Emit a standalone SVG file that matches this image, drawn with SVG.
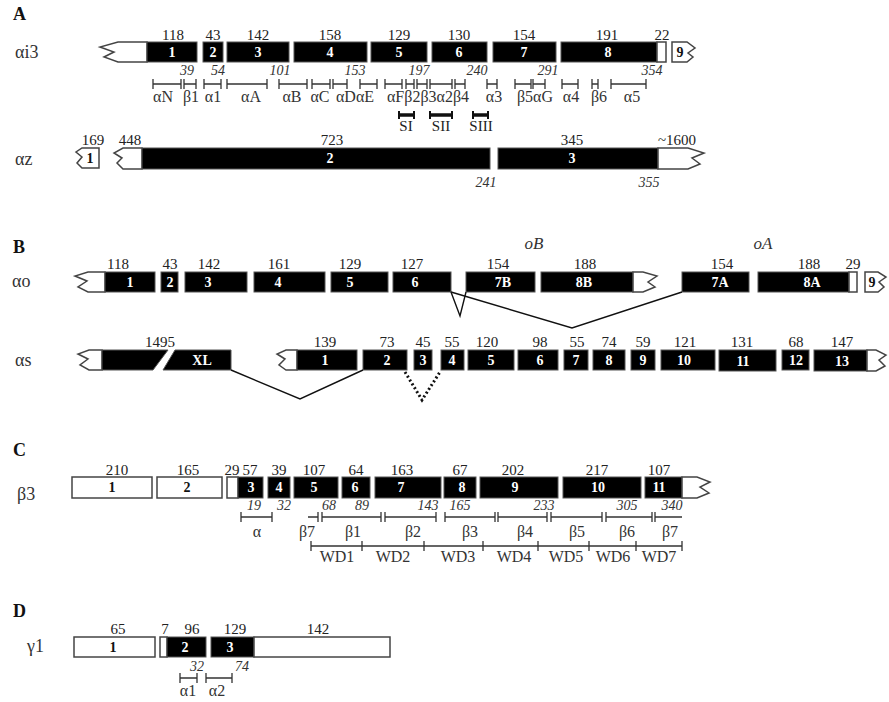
<svg xmlns="http://www.w3.org/2000/svg" width="889" height="702" viewBox="0 0 889 702">
<style>
.ex{fill:#000;stroke:#555;stroke-width:1}
.wb{fill:#fff;stroke:#444;stroke-width:1.5}
.n{font-family:"Liberation Serif",serif;font-size:15px;text-anchor:middle;fill:#222}
.i{font-family:"Liberation Serif",serif;font-size:14px;font-style:italic;text-anchor:middle;fill:#333}
.w{font-family:"Liberation Serif",serif;font-size:14px;font-weight:bold;text-anchor:middle;fill:#fff}
.k{font-family:"Liberation Serif",serif;font-size:14px;font-weight:bold;text-anchor:middle;fill:#111}
.g{font-family:"Liberation Serif",serif;font-size:16px;text-anchor:middle;fill:#333}
.P{font-family:"Liberation Serif",serif;font-size:18px;font-weight:bold;fill:#111}
.R{font-family:"Liberation Serif",serif;font-size:18px;fill:#333}
.oi{font-family:"Liberation Serif",serif;font-size:17px;font-style:italic;text-anchor:middle;fill:#333}
.bl{fill:none;stroke:#333;stroke-width:1.3}
.th{fill:none;stroke:#111;stroke-width:3.5}
.tk{fill:none;stroke:#111;stroke-width:2}
.ln{fill:none;stroke:#111;stroke-width:1.4}
.dt{fill:none;stroke:#111;stroke-width:3;stroke-dasharray:2 2.5}
</style>
<rect width="889" height="702" fill="#fff"/>

<!-- Panel letters and row labels -->
<g id="labels">
<text class="P" x="13" y="20">A</text>
<text class="R" x="15" y="58">αi3</text>
<text class="R" x="15" y="165">αz</text>
<text class="P" x="13" y="253">B</text>
<text class="R" x="12" y="287">αo</text>
<text class="R" x="15" y="366">αs</text>
<text class="P" x="13" y="456">C</text>
<text class="R" x="17" y="500">β3</text>
<text class="P" x="13" y="617">D</text>
<text class="R" x="27" y="652">γ1</text>
</g>

<!-- ===== Panel A: ai3 ===== -->
<g id="ai3-cap5"><polygon class="wb" points="147,42 118,42 100,47 114,52 104,57 118,62 147,62"/></g>
<g id="ai3-e1"><rect class="ex" x="147" y="42" width="50" height="20"/><text class="w" x="172" y="57">1</text><text class="n" x="173" y="40">118</text></g>
<g id="ai3-e2"><rect class="ex" x="203" y="42" width="20" height="20"/><text class="w" x="213" y="57">2</text><text class="n" x="213" y="40">43</text></g>
<g id="ai3-e3"><rect class="ex" x="227" y="42" width="62" height="20"/><text class="w" x="258" y="57">3</text><text class="n" x="258" y="40">142</text></g>
<g id="ai3-e4"><rect class="ex" x="294" y="42" width="73" height="20"/><text class="w" x="330" y="57">4</text><text class="n" x="330" y="40">158</text></g>
<g id="ai3-e5"><rect class="ex" x="371" y="42" width="56" height="20"/><text class="w" x="399" y="57">5</text><text class="n" x="399" y="40">129</text></g>
<g id="ai3-e6"><rect class="ex" x="432" y="42" width="55" height="20"/><text class="w" x="459" y="57">6</text><text class="n" x="459" y="40">130</text></g>
<g id="ai3-e7"><rect class="ex" x="493" y="42" width="63" height="20"/><text class="w" x="524" y="57">7</text><text class="n" x="524" y="40">154</text></g>
<g id="ai3-e8"><rect class="ex" x="561" y="42" width="96" height="20"/><rect class="wb" x="657" y="42" width="9" height="20"/><text class="w" x="608" y="57">8</text><text class="n" x="607" y="40">191</text><text class="n" x="662" y="40">22</text></g>
<g id="ai3-e9"><polygon class="wb" points="672,42 687,42 695,48 688,53 693,57 687,62 672,62"/><text class="k" x="680" y="57">9</text></g>

<g id="ai3-pos">
<text class="i" x="187" y="75">39</text><text class="i" x="218" y="75">54</text><text class="i" x="280" y="75">101</text><text class="i" x="355" y="75">153</text><text class="i" x="419" y="75">197</text><text class="i" x="477" y="75">240</text><text class="i" x="548" y="75">291</text><text class="i" x="652" y="75">354</text>
</g>
<g id="ai3-ss">
<path class="bl" d="M153 79V89M153 84H181M181 79V89 M184 79V89M184 84H196M196 79V89 M204 79V89M204 84H221M221 79V89 M227 79V89M227 84H267M267 79V89 M279 79V89M279 84H307M307 79V89 M312 79V89M312 84H330M330 79V89 M333 79V89M333 84H347M347 79V89 M360 79V89M360 84H377M377 79V89 M385 79V89M385 84H402M402 79V89 M406 79V89M406 84H414M414 79V89 M417 79V89M417 84H427M427 79V89 M430 79V89M430 84H452M452 79V89 M455 79V89M455 84H465M465 79V89 M487 79V89M487 84H497M497 79V89 M515 79V89M515 84H531M531 79V89 M533 79V89M533 84H545M545 79V89 M562 79V89M562 84H578M578 79V89 M592 79V89M592 84H598M598 79V89 M611 79V89M611 84H646M646 79V89"/>
<text class="g" x="163" y="102">αN</text><text class="g" x="191" y="102">β1</text><text class="g" x="213" y="102">α1</text><text class="g" x="251" y="102">αA</text><text class="g" x="292" y="102">αB</text><text class="g" x="320" y="102">αC</text><text class="g" x="355" y="102">αDαE</text><text class="g" x="428" y="102">αFβ2β3α2β4</text><text class="g" x="494" y="102">α3</text><text class="g" x="535" y="102">β5αG</text><text class="g" x="571" y="102">α4</text><text class="g" x="599" y="102">β6</text><text class="g" x="632" y="102">α5</text>
</g>
<g id="ai3-switch">
<path class="th" d="M399 115H414M430 115H452M473 115H488"/>
<path class="tk" d="M399 111V119M414 111V119M430 111V119M452 111V119M473 111V119M488 111V119"/>
<text class="n" x="406" y="131">SI</text><text class="n" x="441" y="131">SII</text><text class="n" x="481" y="131">SIII</text>
</g>

<!-- ===== az ===== -->
<g id="az-e1"><polygon class="wb" points="99,148 82,148 76,152 82,157 77,163 82,168 99,168"/><text class="k" x="90" y="163">1</text><text class="n" x="93" y="145">169</text></g>
<g id="az-cap5"><polygon class="wb" points="142,148 123,148 114,153 122,158 117,163 123,169 142,169"/><text class="n" x="130" y="145">448</text></g>
<g id="az-e2"><rect class="ex" x="142" y="148" width="348" height="21"/><text class="w" x="330" y="163">2</text><text class="n" x="332" y="145">723</text></g>
<g id="az-e3"><rect class="ex" x="498" y="148" width="160" height="21"/><polygon class="wb" points="658,148 688,148 704,153 692,158 700,164 688,169 658,169"/><text class="w" x="572" y="163">3</text><text class="n" x="572" y="145">345</text><text class="n" x="677" y="145">~1600</text></g>
<g id="az-pos"><text class="i" x="486" y="187">241</text><text class="i" x="649" y="187">355</text></g>

<!-- ===== Panel B: ao ===== -->
<text class="oi" x="534" y="249">oB</text>
<text class="oi" x="763" y="249">oA</text>
<g id="ao-cap5"><polygon class="wb" points="105,272 88,272 75,276 87,281 78,287 88,292 105,292"/></g>
<g id="ao-e1"><rect class="ex" x="105" y="272" width="50" height="20"/><text class="w" x="130" y="287">1</text><text class="n" x="118" y="269">118</text></g>
<g id="ao-e2"><rect class="ex" x="161" y="272" width="17" height="20"/><text class="w" x="170" y="287">2</text><text class="n" x="170" y="269">43</text></g>
<g id="ao-e3"><rect class="ex" x="185" y="272" width="62" height="20"/><text class="w" x="208" y="287">3</text><text class="n" x="209" y="269">142</text></g>
<g id="ao-e4"><rect class="ex" x="254" y="272" width="71" height="20"/><text class="w" x="278" y="287">4</text><text class="n" x="279" y="269">161</text></g>
<g id="ao-e5"><rect class="ex" x="331" y="272" width="57" height="20"/><text class="w" x="350" y="287">5</text><text class="n" x="350" y="269">129</text></g>
<g id="ao-e6"><rect class="ex" x="393" y="272" width="58" height="20"/><text class="w" x="415" y="287">6</text><text class="n" x="412" y="269">127</text></g>
<g id="ao-e7B"><rect class="ex" x="466" y="272" width="69" height="20"/><text class="w" x="503" y="287">7B</text><text class="n" x="498" y="269">154</text></g>
<g id="ao-e8B"><rect class="ex" x="541" y="272" width="92" height="20"/><polygon class="wb" points="633,272 643,272 657,276 648,282 655,287 643,292 633,292"/><text class="w" x="584" y="287">8B</text><text class="n" x="585" y="269">188</text></g>
<g id="ao-e7A"><rect class="ex" x="682" y="272" width="67" height="20"/><text class="w" x="720" y="287">7A</text><text class="n" x="722" y="269">154</text></g>
<g id="ao-e8A"><rect class="ex" x="758" y="272" width="91" height="20"/><rect class="wb" x="849" y="272" width="8" height="20"/><text class="w" x="812" y="287">8A</text><text class="n" x="809" y="269">188</text><text class="n" x="853" y="269">29</text></g>
<g id="ao-e9"><polygon class="wb" points="865,272 878,272 886,277 879,282 884,287 878,292 865,292"/><text class="k" x="872" y="287">9</text></g>

<!-- ===== as ===== -->
<g id="as-cap5"><polygon class="wb" points="102,350 89,350 78,354 88,359 80,365 89,370 102,370"/></g>
<g id="as-e0"><polygon class="ex" points="102,350 168,350 153,370 102,370"/><text class="n" x="160" y="347">1495</text></g>
<g id="as-XL"><polygon class="ex" points="175,350 231,350 231,370 163,370"/><text class="w" x="202" y="365">XL</text></g>
<g id="as-cap5b"><polygon class="wb" points="297,350 286,350 277,354 285,359 279,365 286,370 297,370"/></g>
<g id="as-e1"><rect class="ex" x="297" y="350" width="60" height="20"/><text class="w" x="325" y="365">1</text><text class="n" x="325" y="347">139</text></g>
<g id="as-e2"><rect class="ex" x="363" y="350" width="44" height="20"/><text class="w" x="387" y="365">2</text><text class="n" x="387" y="347">73</text></g>
<g id="as-e3"><rect class="ex" x="414" y="350" width="18" height="20"/><text class="w" x="423" y="365">3</text><text class="n" x="423" y="347">45</text></g>
<g id="as-e4"><rect class="ex" x="441" y="350" width="23" height="20"/><text class="w" x="452" y="365">4</text><text class="n" x="452" y="347">55</text></g>
<g id="as-e5"><rect class="ex" x="468" y="350" width="46" height="20"/><text class="w" x="491" y="365">5</text><text class="n" x="487" y="347">120</text></g>
<g id="as-e6"><rect class="ex" x="518" y="350" width="40" height="20"/><text class="w" x="540" y="365">6</text><text class="n" x="540" y="347">98</text></g>
<g id="as-e7"><rect class="ex" x="564" y="350" width="24" height="20"/><text class="w" x="576" y="365">7</text><text class="n" x="577" y="347">55</text></g>
<g id="as-e8"><rect class="ex" x="593" y="350" width="32" height="20"/><text class="w" x="609" y="365">8</text><text class="n" x="609" y="347">74</text></g>
<g id="as-e9"><rect class="ex" x="631" y="350" width="24" height="20"/><text class="w" x="643" y="365">9</text><text class="n" x="643" y="347">59</text></g>
<g id="as-e10"><rect class="ex" x="661" y="350" width="54" height="20"/><text class="w" x="684" y="365">10</text><text class="n" x="685" y="347">121</text></g>
<g id="as-e11"><rect class="ex" x="719" y="350" width="57" height="21"/><text class="w" x="743" y="366">11</text><text class="n" x="742" y="347">131</text></g>
<g id="as-e12"><rect class="ex" x="782" y="350" width="27" height="20"/><text class="w" x="796" y="365">12</text><text class="n" x="796" y="347">68</text></g>
<g id="as-e13"><rect class="ex" x="814" y="350" width="53" height="21"/><polygon class="wb" points="867,350 876,350 886,355 879,360 885,366 876,371 867,371"/><text class="w" x="842" y="366">13</text><text class="n" x="842" y="347">147</text></g>

<!-- ===== Panel C: b3 ===== -->
<g id="b3-e1"><rect class="wb" x="72" y="477" width="80" height="21"/><text class="k" x="112" y="492">1</text><text class="n" x="117" y="475">210</text></g>
<g id="b3-e2"><rect class="wb" x="157" y="477" width="65" height="21"/><text class="k" x="187" y="492">2</text><text class="n" x="188" y="475">165</text></g>
<g id="b3-e3"><rect class="wb" x="227" y="477" width="11" height="21"/><rect class="ex" x="238" y="477" width="25" height="21"/><text class="w" x="251" y="492">3</text><text class="n" x="232" y="475">29</text><text class="n" x="250" y="475">57</text></g>
<g id="b3-e4"><rect class="ex" x="268" y="477" width="22" height="21"/><text class="w" x="279" y="492">4</text><text class="n" x="279" y="475">39</text></g>
<g id="b3-e5"><rect class="ex" x="294" y="477" width="44" height="21"/><text class="w" x="314" y="492">5</text><text class="n" x="314" y="475">107</text></g>
<g id="b3-e6"><rect class="ex" x="342" y="477" width="28" height="21"/><text class="w" x="355" y="492">6</text><text class="n" x="356" y="475">64</text></g>
<g id="b3-e7"><rect class="ex" x="375" y="477" width="66" height="21"/><text class="w" x="401" y="492">7</text><text class="n" x="402" y="475">163</text></g>
<g id="b3-e8"><rect class="ex" x="444" y="477" width="32" height="21"/><text class="w" x="462" y="492">8</text><text class="n" x="460" y="475">67</text></g>
<g id="b3-e9"><rect class="ex" x="480" y="477" width="78" height="21"/><text class="w" x="515" y="492">9</text><text class="n" x="513" y="475">202</text></g>
<g id="b3-e10"><rect class="ex" x="563" y="477" width="78" height="21"/><text class="w" x="598" y="492">10</text><text class="n" x="597" y="475">217</text></g>
<g id="b3-e11"><rect class="ex" x="645" y="477" width="37" height="21"/><polygon class="wb" points="682,477 697,477 710,482 700,487 709,493 697,498 682,498"/><text class="w" x="659" y="492">11</text><text class="n" x="659" y="475">107</text></g>
<g id="b3-pos">
<text class="i" x="254" y="510">19</text><text class="i" x="284" y="510">32</text><text class="i" x="329" y="510">68</text><text class="i" x="362" y="510">89</text><text class="i" x="428" y="510">143</text><text class="i" x="460" y="510">165</text><text class="i" x="544" y="510">233</text><text class="i" x="627" y="510">305</text><text class="i" x="672" y="510">340</text>
</g>
<g id="b3-ss">
<path class="bl" d="M241 512V522M241 517H272M272 512V522 M308 517H318M318 512V522 M322 512V522M322 517H381M381 512V522 M385 512V522M385 517H436M436 512V522 M445 512V522M445 517H495M495 512V522 M498 512V522M498 517H547M547 512V522 M551 512V522M551 517H602M602 512V522 M606 512V522M606 517H652M652 512V522 M655 512V522M655 517H682"/>
<text class="g" x="257" y="537">α</text><text class="g" x="307" y="537">β7</text><text class="g" x="353" y="537">β1</text><text class="g" x="413" y="537">β2</text><text class="g" x="470" y="537">β3</text><text class="g" x="525" y="537">β4</text><text class="g" x="577" y="537">β5</text><text class="g" x="627" y="537">β6</text><text class="g" x="670" y="537">β7</text>
</g>
<g id="b3-wd">
<path class="bl" d="M311 546H682M311 541V551M362 541V551M424 541V551M483 541V551M538 541V551M589 541V551M636 541V551M682 541V551"/>
<text class="g" x="337" y="562">WD1</text><text class="g" x="393" y="562">WD2</text><text class="g" x="458" y="562">WD3</text><text class="g" x="514" y="562">WD4</text><text class="g" x="566" y="562">WD5</text><text class="g" x="613" y="562">WD6</text><text class="g" x="659" y="562">WD7</text>
</g>

<!-- ===== Panel D: g1 ===== -->
<g id="g1-e1"><rect class="wb" x="74" y="637" width="81" height="20"/><text class="k" x="113" y="652">1</text><text class="n" x="118" y="634">65</text></g>
<g id="g1-e2"><rect class="wb" x="160" y="637" width="7" height="20"/><rect class="ex" x="167" y="637" width="39" height="20"/><text class="w" x="185" y="652">2</text><text class="n" x="165" y="634">7</text><text class="n" x="192" y="634">96</text></g>
<g id="g1-e3"><rect class="ex" x="211" y="637" width="43" height="20"/><rect class="wb" x="254" y="637" width="136" height="20"/><text class="w" x="230" y="652">3</text><text class="n" x="235" y="634">129</text><text class="n" x="318" y="634">142</text></g>
<g id="g1-ss">
<text class="i" x="197" y="671">32</text><text class="i" x="242" y="671">74</text>
<path class="bl" d="M180 673V683M180 678H197M197 673V683 M206 673V683M206 678H232M232 673V683"/>
<text class="g" x="188" y="696">α1</text><text class="g" x="217" y="696">α2</text>
</g>

<!-- connectors -->
<g id="connectors">
<path class="ln" d="M451 292L460 316L466 292"/>
<path class="ln" d="M451 292L572 328L682 292"/>
<path class="ln" d="M231 370L300 399L363 370"/>
<path class="dt" d="M405 372L422 400L440 372"/>
</g>
</svg>
